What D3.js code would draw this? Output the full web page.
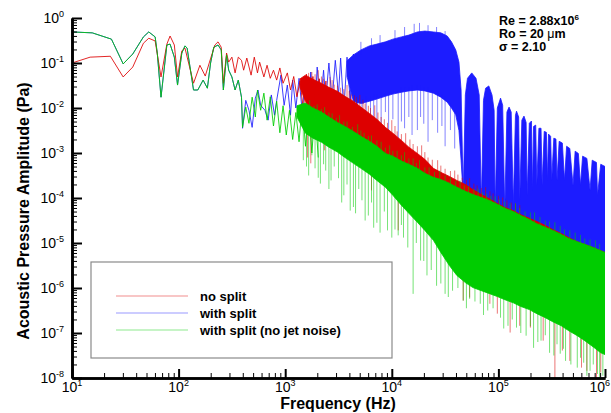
<!DOCTYPE html>
<html>
<head>
<meta charset="utf-8">
<script src="https://cdn.jsdelivr.net/npm/d3@7"></script>
<style>
  body { margin: 0; background: #fff; }
  text { font-family: "Liberation Sans", Arial, Helvetica, sans-serif; }
</style>
</head>
<body>
<svg id="chart" width="611" height="413"></svg>
<script>
// All spectra values are stored as log10: frequency in Hz, amplitude in Pa.

// ---- no split (red) ----
const noSplitLineF = [1.00,1.17,1.36,1.48,1.57,1.67,1.72,1.78,1.835,1.89,1.92,1.96,1.99,2.03,2.06,2.14,2.20,2.25,2.29,2.34,2.37,2.40,2.42,2.45,2.47,2.50,2.53,2.56,2.59,2.61,2.64,2.68,2.71,2.74,2.76,2.80,2.83,2.86,2.89,2.92,2.95,2.98,3.02,3.05,3.08,3.11,3.14,3.17,3.20,3.23,3.26,3.29,3.32,3.35,3.38];
const noSplitLineP = [-1.00,-0.87,-0.85,-1.31,-1.09,-0.56,-0.45,-0.51,-1.31,-0.58,-0.40,-0.60,-1.31,-0.73,-0.67,-1.45,-1.05,-1.29,-0.98,-0.60,-0.53,-0.65,-1.45,-0.78,-0.98,-0.87,-1.22,-0.87,-0.94,-1.16,-0.89,-1.27,-0.87,-1.22,-0.98,-1.31,-1.05,-1.34,-1.16,-1.38,-1.11,-1.45,-1.22,-1.60,-1.30,-1.75,-1.40,-2.05,-1.25,-2.30,-1.30,-2.45,-1.35,-2.40,-1.40];
const noSplitBandF  = [3.14,3.19,3.26,3.34,3.41,3.49,3.56,3.64,3.71,3.79,3.86,3.94,4.01,4.09,4.16,4.24,4.31,4.39,4.46,4.54,4.61,4.69,4.76,4.84,4.91,4.99,5.06,5.14,5.21,5.29,5.36,5.44,5.51,5.59,5.66,5.74,5.81,5.89,5.96,6.00];
const noSplitBandHi = [-1.35,-1.27,-1.36,-1.45,-1.54,-1.63,-1.74,-1.85,-1.98,-2.12,-2.25,-2.43,-2.56,-2.72,-2.87,-3.01,-3.14,-3.34,-3.43,-3.52,-3.61,-3.70,-3.81,-3.92,-4.01,-4.12,-4.21,-4.28,-4.37,-4.45,-4.52,-4.61,-4.70,-4.79,-4.88,-4.97,-5.03,-5.10,-5.17,-5.21];
const noSplitBandLo = [-1.55,-1.85,-2.20,-2.29,-2.38,-2.47,-2.58,-2.69,-2.78,-2.87,-2.98,-3.12,-3.25,-3.39,-3.61,-3.83,-4.05,-4.32,-4.54,-4.77,-4.99,-5.17,-5.35,-5.50,-5.63,-5.77,-5.88,-5.99,-6.10,-6.19,-6.28,-6.39,-6.50,-6.61,-6.73,-6.84,-6.95,-7.06,-7.17,-7.22];
const noSplitSpikeF   = [3.21,3.24,3.37,3.81,4.06,4.67,4.73,4.92,4.99,5.11,5.20,5.30,5.42,5.53,5.60,5.67,5.78,5.83,5.92,5.96,
                         3.22,3.28,3.31,3.36,3.42,3.46,3.52,3.58,3.62,3.67,3.70,3.75,3.80,3.84,3.90,3.96,4.00,4.05,4.13,4.20,4.28,4.34,4.43,4.50,4.59,4.66,4.73,4.80,4.88,4.95,5.04,5.12,5.20,
                         3.25,3.34,3.39,3.44,3.49,3.55,3.60,3.65,3.73,3.78,3.87,3.93,4.03,4.09,4.17,4.24,4.31,4.38,4.46,4.55,4.62,4.70,4.77,4.84,4.92,5.00,5.08,5.16];
const noSplitSpikeTop = [-2.16,-2.23,-2.34,-2.94,-3.34,-5.12,-5.28,-5.61,-5.72,-5.95,-6.06,-6.17,-6.35,-6.50,-6.61,-6.73,-6.90,-6.95,-7.08,-7.17,
                         -1.22,-1.25,-1.16,-1.35,-1.31,-1.48,-1.55,-1.49,-1.70,-1.76,-1.71,-1.90,-2.00,-1.94,-2.20,-2.33,-2.27,-2.52,-2.56,-2.80,-2.83,-3.10,-3.16,-3.35,-3.39,-3.55,-3.56,-3.72,-3.76,-3.90,-3.99,-4.10,-4.16,
                         -1.20,-1.30,-1.40,-1.38,-1.50,-1.58,-1.62,-1.72,-1.82,-1.95,-2.10,-2.25,-2.40,-2.58,-2.70,-2.85,-2.98,-3.15,-3.28,-3.40,-3.48,-3.60,-3.68,-3.78,-3.85,-3.95,-4.05,-4.12];
const noSplitSpikeBot = [-3.10,-3.23,-2.94,-3.83,-4.72,-6.28,-6.21,-6.35,-6.57,-6.99,-6.84,-6.88,-7.17,-8.00,-7.39,-7.62,-7.77,-7.84,-8.02,-7.88,
                         -1.45,-1.55,-1.49,-1.60,-1.65,-1.75,-1.80,-1.83,-1.95,-2.00,-2.05,-2.15,-2.25,-2.32,-2.45,-2.55,-2.72,-2.75,-2.94,-3.00,-3.21,-3.35,-3.50,-3.55,-3.65,-3.75,-3.83,-3.92,-4.01,-4.10,-4.21,-4.30,-4.39,
                         -1.45,-1.55,-1.60,-1.65,-1.70,-1.80,-1.90,-1.95,-2.05,-2.15,-2.30,-2.45,-2.65,-2.80,-2.95,-3.10,-3.25,-3.40,-3.50,-3.60,-3.70,-3.80,-3.88,-3.98,-4.05,-4.15,-4.25,-4.32];

// ---- with split (blue) ----
const splitLineF = [1.00,1.19,1.37,1.48,1.57,1.67,1.72,1.78,1.80,1.835,1.89,1.92,1.96,1.99,2.03,2.06,2.08,2.14,2.18,2.23,2.27,2.30,2.33,2.37,2.40,2.42,2.45,2.47,2.50,2.53,2.56,2.59,2.60,2.63,2.66,2.69,2.72,2.745,2.77,2.81,2.84,2.87,2.90,2.92,2.96,2.99,3.02,3.05,3.07,3.10,3.13,3.16,3.19,3.21,3.24,3.27,3.30,3.33,3.36,3.38,3.41,3.44,3.47,3.50,3.52,3.55,3.58,3.61,3.64,3.67,3.70,3.73,3.76];
const splitLineP = [-0.31,-0.33,-0.47,-1.02,-0.80,-0.42,-0.31,-0.42,-0.78,-1.76,-0.60,-0.58,-0.87,-1.49,-0.78,-0.62,-0.67,-1.60,-1.60,-1.38,-1.56,-1.00,-0.65,-0.60,-0.71,-1.60,-0.82,-1.16,-1.31,-1.60,-1.38,-1.76,-2.45,-1.83,-2.05,-2.43,-1.78,-1.60,-1.94,-2.05,-2.27,-1.71,-2.16,-1.83,-1.27,-1.94,-1.49,-2.16,-1.38,-2.00,-1.34,-2.09,-1.29,-2.27,-1.20,-2.38,-1.09,-1.94,-1.16,-1.83,-1.00,-1.83,-0.94,-1.71,-0.89,-2.05,-0.87,-1.85,-0.80,-2.00,-0.75,-1.90,-0.70];
const splitHiF = [3.58,3.64,3.71,3.79,3.86,3.94,4.01,4.09,4.16,4.24,4.31,4.39,4.46,4.52,4.56,4.60,4.63,4.65,4.67,4.69,4.71,4.75,4.79,4.82,4.84,4.86,4.88,4.91,4.94,4.96,4.97,4.99,5.02,5.04,5.06,5.08,5.10,5.12,5.14,5.16,5.17,5.19,5.20,5.22,5.24,5.26,5.27,5.29,5.31,5.32,5.33,5.35,5.36,5.38,5.40,5.41,5.43,5.45,5.46,5.47,5.49,5.50,5.52,5.54,5.55,5.57,5.60,5.62,5.64,5.67,5.70,5.72,5.75,5.77,5.79,5.83,5.86,5.88,5.92,5.93,5.96,6.00];
const splitHiP = [-0.95,-0.82,-0.71,-0.62,-0.58,-0.53,-0.47,-0.42,-0.38,-0.31,-0.29,-0.31,-0.33,-0.40,-0.53,-0.71,-0.98,-1.60,-3.94,-1.71,-1.34,-1.22,-1.34,-1.71,-4.16,-1.83,-1.56,-1.51,-1.71,-2.05,-4.28,-2.00,-1.78,-1.94,-4.28,-2.09,-1.98,-2.09,-4.16,-2.16,-2.07,-2.20,-4.05,-2.27,-2.18,-2.32,-3.94,-2.34,-2.29,-3.83,-2.41,-2.38,-3.72,-2.45,-2.45,-3.72,-2.52,-2.54,-3.61,-2.58,-2.63,-3.61,-2.67,-2.69,-3.61,-2.74,-2.78,-3.61,-2.85,-2.90,-3.72,-2.96,-3.01,-3.72,-3.07,-3.12,-3.83,-3.16,-3.21,-3.94,-3.25,-3.30];
const splitLoF = [3.58,3.64,3.71,3.79,3.86,3.94,4.01,4.09,4.16,4.24,4.31,4.39,4.46,4.52,4.56,4.60,4.63,4.65,4.67,4.69,4.75,4.84,4.91,4.97,5.02,5.06,5.14,5.20,5.27,5.33,5.39,5.46,5.53,5.60,5.67,5.74,5.81,5.89,5.96,6.00];
const splitLoP = [-1.30,-1.85,-1.90,-1.85,-1.80,-1.74,-1.69,-1.65,-1.62,-1.60,-1.62,-1.67,-1.76,-1.87,-2.00,-2.15,-2.50,-3.16,-3.94,-3.83,-3.88,-4.16,-4.19,-4.32,-4.37,-4.41,-4.45,-4.52,-4.59,-4.66,-4.72,-4.77,-4.83,-4.90,-4.97,-5.03,-5.08,-5.14,-5.19,-5.21];
const splitSpikeF   = [3.61,3.65,3.68,3.72,3.76,3.80,3.83,3.86,3.90,3.94,3.97,4.01,4.06,4.09,4.12,4.16,4.19,4.24,4.27,4.30,4.34,4.38,4.43,4.47,4.50,4.55,4.59,
                       3.71,3.81,3.89,4.03,4.12,4.21,4.26,4.34,4.42,4.50,
                       4.72,4.77,4.87,4.93,5.00,5.05,5.11,5.18,5.25,5.30,5.37,5.44,5.51,5.58,5.65,5.72,5.79,5.87,5.94];
const splitSpikeTop = [-1.60,-1.70,-1.75,-1.80,-1.75,-1.75,-1.70,-1.70,-1.70,-1.65,-1.65,-1.60,-1.60,-1.55,-1.55,-1.55,-1.50,-1.50,-1.50,-1.55,-1.55,-1.60,-1.65,-1.70,-1.75,-1.90,-2.05,
                       -0.53,-0.45,-0.38,-0.27,-0.20,-0.13,-0.11,-0.16,-0.20,-0.29,
                       -3.80,-3.90,-4.10,-4.15,-4.30,-4.35,-4.40,-4.45,-4.55,-4.60,-4.65,-4.72,-4.78,-4.85,-4.92,-4.98,-5.03,-5.10,-5.15];
const splitSpikeBot = [-2.49,-2.55,-2.30,-2.27,-2.60,-2.16,-2.45,-2.85,-2.35,-2.09,-2.55,-2.25,-2.70,-2.30,-2.45,-2.20,-2.60,-2.49,-2.20,-2.35,-2.75,-2.27,-2.55,-2.40,-2.85,-2.49,-2.90,
                       -0.82,-0.67,-0.60,-0.49,-0.45,-0.36,-0.33,-0.33,-0.38,-0.45,
                       -4.30,-4.45,-4.55,-4.65,-4.75,-4.85,-4.80,-4.95,-5.00,-5.10,-5.05,-5.20,-5.15,-5.30,-5.25,-5.40,-5.35,-5.45,-5.50];

// ---- with split, no jet noise (green) ----
const noJetLineF = [1.00,1.19,1.37,1.48,1.57,1.67,1.72,1.78,1.80,1.835,1.89,1.92,1.96,1.99,2.03,2.06,2.08,2.14,2.18,2.23,2.27,2.30,2.33,2.37,2.40,2.42,2.45,2.47,2.50,2.53,2.56,2.59,2.60,2.63,2.66,2.69,2.72,2.74,2.77,2.80,2.83,2.86,2.89,2.92,2.95,2.98,3.01,3.04,3.07,3.10,3.13,3.16,3.19,3.22,3.25,3.28,3.31];
const noJetLineP = [-0.31,-0.33,-0.47,-1.02,-0.80,-0.42,-0.31,-0.42,-0.78,-1.76,-0.60,-0.58,-0.87,-1.49,-0.78,-0.62,-0.67,-1.60,-1.60,-1.38,-1.56,-1.00,-0.65,-0.60,-0.71,-1.60,-0.82,-1.16,-1.31,-1.60,-1.38,-1.76,-2.43,-1.98,-2.34,-1.76,-2.20,-1.60,-2.05,-1.67,-2.27,-1.75,-2.40,-1.85,-2.55,-1.95,-2.60,-2.05,-2.70,-2.10,-2.75,-1.90,-2.85,-2.00,-3.00,-2.05,-3.10];
const noJetBandF  = [3.11,3.19,3.26,3.34,3.41,3.49,3.56,3.64,3.71,3.79,3.86,3.94,4.01,4.09,4.16,4.24,4.31,4.39,4.46,4.54,4.61,4.69,4.76,4.84,4.91,4.99,5.06,5.14,5.21,5.29,5.36,5.44,5.51,5.59,5.66,5.74,5.81,5.89,5.96,6.00];
const noJetBandHi = [-1.95,-1.89,-2.00,-2.09,-2.20,-2.32,-2.41,-2.52,-2.63,-2.74,-2.85,-3.01,-3.07,-3.18,-3.25,-3.34,-3.45,-3.54,-3.59,-3.67,-3.76,-3.85,-3.92,-3.99,-4.05,-4.14,-4.23,-4.30,-4.39,-4.48,-4.57,-4.65,-4.72,-4.81,-4.90,-4.97,-5.03,-5.10,-5.17,-5.21];
const noJetBandLo = [-2.20,-2.56,-2.67,-2.76,-2.87,-2.98,-3.10,-3.23,-3.34,-3.47,-3.61,-3.76,-3.94,-4.16,-4.34,-4.54,-4.72,-4.94,-5.21,-5.50,-5.72,-5.88,-5.99,-6.06,-6.12,-6.19,-6.26,-6.33,-6.41,-6.48,-6.57,-6.66,-6.75,-6.84,-6.95,-7.06,-7.17,-7.31,-7.44,-7.48];
const noJetSpikeF   = [3.17,3.22,3.28,3.33,3.38,3.43,3.50,3.55,3.61,3.66,3.72,3.78,3.83,3.89,3.96,4.00,4.06,4.11,4.20,4.27,4.33,4.42,4.50,4.57,4.67,4.73,4.83,4.90,5.02,5.09,5.17,5.26,5.33,5.40,5.48,5.58,5.63,5.74,5.80,5.86,5.93,5.95,
                       3.20,3.25,3.31,3.36,3.41,3.46,3.53,3.58,3.64,3.69,3.75,3.81,3.86,3.93,4.03,4.09,4.15,4.23,4.30,4.37,4.46,4.53,4.62,4.70,4.78,4.86,4.95,5.05,5.13,5.21,5.30,5.37,5.44,5.52,5.55,5.61,5.68,5.77,5.83,5.89,5.98,
                       3.23,3.30,3.37,3.44,3.51,3.58,3.68,3.74,3.81,3.90,3.98,4.05,4.12,4.20,4.26,4.35,4.45,4.55,4.64,4.72,4.81,4.89,4.97,5.06,5.16,5.25,5.34,5.44,5.53,5.62,5.72,5.81,5.91,
                       3.27,3.34,3.41,3.48,3.55,3.63,3.71,3.78,3.86,3.94,4.01,4.09,4.16,4.23,4.31,4.40,4.50,4.60,4.68,4.77,4.85,4.93,5.01,5.11,5.20,5.30,5.39,5.48,5.58,5.67,5.77,5.86,5.95];
const noJetSpikeTop = [-2.45,-2.54,-2.63,-2.72,-2.81,-2.87,-2.94,-3.05,-3.12,-3.21,-3.30,-3.39,-3.50,-3.61,-3.72,-3.83,-4.01,-4.17,-4.39,-4.54,-4.68,-4.94,-5.28,-5.50,-5.72,-5.88,-5.99,-6.06,-6.17,-6.24,-6.33,-6.41,-6.48,-6.57,-6.66,-6.77,-6.86,-6.99,-7.08,-7.17,-7.28,-7.35,
                       -2.50,-2.58,-2.68,-2.78,-2.85,-2.92,-3.00,-3.10,-3.20,-3.28,-3.38,-3.50,-3.58,-3.70,-3.90,-4.10,-4.25,-4.45,-4.62,-4.80,-5.15,-5.40,-5.65,-5.80,-5.95,-6.05,-6.15,-6.22,-6.30,-6.38,-6.45,-6.55,-6.62,-6.72,-6.75,-6.82,-6.93,-7.05,-7.13,-7.25,-7.45,
                       -1.83,-1.92,-1.98,-2.12,-2.16,-2.30,-2.36,-2.55,-2.61,-2.75,-2.83,-2.95,-2.98,-3.12,-3.16,-3.32,-3.39,-3.55,-3.61,-3.75,-3.79,-3.90,-3.96,-4.08,-4.12,-4.30,-4.32,-4.50,-4.54,-4.70,-4.77,-4.90,-4.94,
                       -1.95,-2.02,-2.10,-2.22,-2.30,-2.42,-2.50,-2.62,-2.72,-2.88,-2.95,-3.05,-3.12,-3.22,-3.32,-3.42,-3.50,-3.62,-3.72,-3.80,-3.88,-3.95,-4.03,-4.12,-4.22,-4.32,-4.42,-4.52,-4.62,-4.72,-4.82,-4.92,-5.02];
const noJetSpikeBot = [-3.16,-3.50,-3.34,-3.68,-3.39,-3.61,-3.56,-3.94,-4.28,-4.34,-4.05,-4.39,-4.66,-4.77,-4.72,-4.88,-4.83,-4.88,-6.13,-5.39,-5.72,-5.95,-6.13,-6.06,-6.28,-6.24,-6.35,-6.50,-6.66,-6.84,-6.88,-7.06,-7.33,-7.17,-7.44,-7.46,-7.62,-7.77,-7.66,-7.84,-7.91,-8.02,
                       -3.30,-3.05,-3.55,-3.25,-3.80,-3.30,-4.10,-3.70,-4.20,-3.80,-4.50,-4.10,-4.55,-4.30,-4.70,-4.60,-5.10,-5.00,-5.40,-5.60,-5.90,-6.20,-6.00,-6.45,-6.30,-6.60,-6.45,-6.90,-6.70,-7.00,-6.85,-7.20,-7.05,-7.50,-7.25,-7.35,-7.70,-7.55,-7.95,-7.70,-7.95,
                       -2.09,-2.15,-2.27,-2.35,-2.45,-2.50,-2.65,-2.80,-2.87,-3.00,-3.10,-3.20,-3.27,-3.35,-3.43,-3.55,-3.65,-3.75,-3.88,-3.95,-4.01,-4.10,-4.19,-4.28,-4.34,-4.45,-4.54,-4.65,-4.77,-4.85,-4.99,-5.05,-5.17,
                       -2.10,-2.20,-2.30,-2.40,-2.50,-2.60,-2.70,-2.80,-2.92,-3.05,-3.15,-3.25,-3.30,-3.40,-3.50,-3.60,-3.70,-3.80,-3.90,-3.98,-4.05,-4.12,-4.20,-4.30,-4.40,-4.50,-4.60,-4.70,-4.80,-4.92,-5.00,-5.10,-5.20];

// axis ticks and labels
const xTickExp = [1, 2, 3, 4, 5, 6];
const yTickExp = [0, -1, -2, -3, -4, -5, -6, -7, -8];
const legendLabels = ["no split", "with split", "with split (no jet noise)"];
const seriesColors = ["#dd0000", "#1c1cff", "#00cc00"];

const svg = d3.select("#chart");
const x = d3.scaleLog().domain([1e1, 1e6]).range([72, 605]);
const y = d3.scaleLog().domain([1e-8, 1e0]).range([378, 18]);
const px = v => x(10 ** v);
const py = v => y(10 ** v);

svg.append("defs").append("clipPath").attr("id", "plot")
  .append("rect").attr("x", 72).attr("y", 18).attr("width", 533).attr("height", 360);

const plot = svg.append("g").attr("clip-path", "url(#plot)");
const line = d3.line().x(d => px(d[0])).y(d => py(d[1]));
const zip = (a, b) => a.map((v, i) => [v, b[i]]);

function drawSeries(color, lineF, lineP, hiF, hiP, loF, loP, sF, sTop, sBot) {
  const g = plot.append("g");
  // dense broadband part: upper envelope forward, lower envelope back
  const poly = zip(hiF, hiP).concat(zip(loF, loP).reverse());
  g.append("path").attr("d", line(poly) + "Z")
    .attr("fill", color).attr("stroke", color).attr("stroke-width", 0.8)
    .attr("stroke-linejoin", "round");
  // individual spikes around the band
  g.selectAll("line.spike").data(sF).join("line").attr("class", "spike")
    .attr("x1", d => px(d)).attr("x2", d => px(d))
    .attr("y1", (d, i) => py(sTop[i])).attr("y2", (d, i) => py(sBot[i]))
    .attr("stroke", color).attr("stroke-width", 0.9).attr("opacity", 0.6);
  // tonal low-frequency part
  g.append("path").attr("d", line(zip(lineF, lineP)))
    .attr("fill", "none").attr("stroke", color).attr("stroke-width", 1)
    .attr("stroke-opacity", 0.85).attr("stroke-linejoin", "round");
}

drawSeries(seriesColors[1], splitLineF, splitLineP, splitHiF, splitHiP, splitLoF, splitLoP,
           splitSpikeF, splitSpikeTop, splitSpikeBot);
drawSeries(seriesColors[0], noSplitLineF, noSplitLineP, noSplitBandF, noSplitBandHi, noSplitBandF, noSplitBandLo,
           noSplitSpikeF, noSplitSpikeTop, noSplitSpikeBot);
drawSeries(seriesColors[2], noJetLineF, noJetLineP, noJetBandF, noJetBandHi, noJetBandF, noJetBandLo,
           noJetSpikeF, noJetSpikeTop, noJetSpikeBot);

// ---- axes ----
const xMajor = xTickExp.map(e => 10 ** e);
const yMajor = yTickExp.map(e => 10 ** e);
const isMajor = v => Math.abs(Math.log10(v) - Math.round(Math.log10(v))) < 1e-9;
const xMinor = x.ticks().filter(v => !isMajor(v));
const yMinor = y.ticks().filter(v => !isMajor(v));

function styleAxis(g, w) {
  g.select(".domain").attr("stroke", "#000").attr("stroke-width", 2.6);
  g.selectAll(".tick line").attr("stroke", "#000").attr("stroke-width", w);
}
const gxMinor = svg.append("g").attr("transform", "translate(0,378)")
  .call(d3.axisBottom(x).tickValues(xMinor).tickSize(-5).tickSizeOuter(0).tickFormat(""));
styleAxis(gxMinor, 1);
const gxMajor = svg.append("g").attr("transform", "translate(0,378)")
  .call(d3.axisBottom(x).tickValues(xMajor).tickSize(-9).tickSizeOuter(0).tickFormat(""));
styleAxis(gxMajor, 2);
const gyMinor = svg.append("g").attr("transform", "translate(72,0)")
  .call(d3.axisLeft(y).tickValues(yMinor).tickSize(-5).tickSizeOuter(0).tickFormat(""));
styleAxis(gyMinor, 1);
const gyMajor = svg.append("g").attr("transform", "translate(72,0)")
  .call(d3.axisLeft(y).tickValues(yMajor).tickSize(-10).tickSizeOuter(0).tickFormat(""));
styleAxis(gyMajor, 2);

// power-of-ten tick labels (the last one is kept inside the page)
const xl = svg.append("g").selectAll("text").data(xTickExp).join("text")
  .attr("x", d => d === 6 ? 610 : x(10 ** d)).attr("y", 392)
  .attr("text-anchor", d => d === 6 ? "end" : "middle")
  .attr("font-size", 14).attr("fill", "#000");
xl.append("tspan").text("10");
xl.append("tspan").attr("dy", -6).attr("font-size", 9).text(d => d);

const yl = svg.append("g").selectAll("text").data(yTickExp).join("text")
  .attr("x", 64).attr("y", d => y(10 ** d) + 5).attr("text-anchor", "end")
  .attr("font-size", 14).attr("fill", "#000");
yl.append("tspan").text("10");
yl.append("tspan").attr("dy", -6).attr("font-size", 9).text(d => d === 0 ? "0" : "-" + Math.abs(d));

// axis titles
svg.append("text").attr("x", 338).attr("y", 409).attr("text-anchor", "middle")
  .attr("font-size", 16).attr("font-weight", "bold").text("Frequency (Hz)");
svg.append("text").attr("transform", "translate(29,211) rotate(-90)").attr("text-anchor", "middle")
  .attr("font-size", 16).attr("font-weight", "bold").text("Acoustic Pressure Amplitude (Pa)");

// ---- legend ----
const legend = svg.append("g");
legend.append("rect").attr("x", 91).attr("y", 262).attr("width", 301).attr("height", 96)
  .attr("fill", "#fff").attr("stroke", "#8a8a8a").attr("stroke-width", 1.2);
legendLabels.forEach((lab, i) => {
  const ly = 296 + i * 17;
  legend.append("line").attr("x1", 116).attr("x2", 188).attr("y1", ly).attr("y2", ly)
    .attr("stroke", seriesColors[i]).attr("stroke-width", 1).attr("stroke-opacity", 0.45);
  legend.append("text").attr("x", 200).attr("y", ly + 5).attr("font-size", 13)
    .attr("font-weight", "bold").text(lab);
});

// ---- flow parameters ----
const note = svg.append("g").attr("font-size", 12.5).attr("font-weight", "bold");
const re = note.append("text").attr("x", 499).attr("y", 25);
re.append("tspan").text("Re = 2.88x10");
re.append("tspan").attr("dy", -5).attr("font-size", 8).text("6");
const ro = note.append("text").attr("x", 499).attr("y", 38);
ro.append("tspan").text("Ro = 20 ");
ro.append("tspan").attr("font-weight", "normal").text("\u03bc");
ro.append("tspan").text("m");
note.append("text").attr("x", 499).attr("y", 51).text("\u03c3 = 2.10");
</script>
</body>
</html>
